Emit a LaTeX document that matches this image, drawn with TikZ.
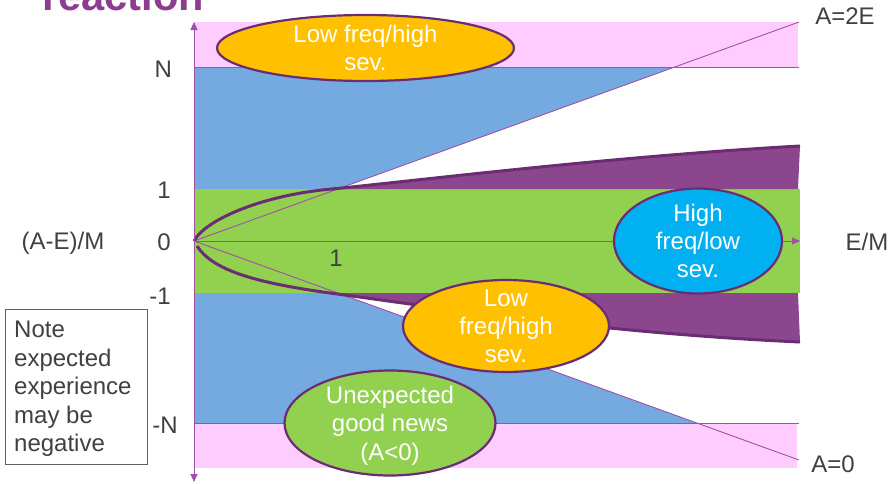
\documentclass[tikz,border=0pt]{standalone}
\usepackage{fontspec}
\setmainfont{Liberation Sans}
\usetikzlibrary{shapes.geometric,arrows.meta}
\definecolor{pinkband}{HTML}{FFCCFF}
\definecolor{blueband}{HTML}{75AAE1}
\definecolor{greenband}{HTML}{92D050}
\definecolor{purplefill}{HTML}{8C468E}
\definecolor{darkpurple}{HTML}{6A2C72}
\definecolor{axiscol}{HTML}{A050A8}
\definecolor{orangefill}{HTML}{FFC000}
\definecolor{bluefill}{HTML}{00B0F0}
\definecolor{labelgray}{HTML}{404040}
\definecolor{notegray}{HTML}{606060}
\definecolor{titlepurple}{HTML}{8C3C91}
\begin{document}
\begin{tikzpicture}[x=1pt,y=-1pt,
  >={Triangle[length=8pt,width=7pt]},
  lbl/.style={text=labelgray,font=\fontsize{24}{28.4}\selectfont,inner sep=0,anchor=base},
  bubble/.style={ellipse,draw=darkpurple,line width=2.2pt,inner sep=0},
  btext/.style={text=white,font=\fontsize{24}{28.4}\selectfont,align=center,inner sep=0},
  thinline/.style={draw=axiscol,line width=0.9pt},
  curveline/.style={draw=darkpurple,line width=3pt},
  axisline/.style={draw=axiscol,line width=1pt}]
\useasboundingbox (0,0) rectangle (893,483);
\clip (0,0) rectangle (893,483);
% key points
\coordinate (O) at (194,241);
\coordinate (Otop) at (194,22);
\coordinate (Obot) at (194,482);
\coordinate (Xend) at (800,241);
\coordinate (up2E) at (799,22);
\coordinate (dn0) at (799,460);
% bands
\fill[pinkband] (194,22) rectangle (798,67);
\fill[pinkband] (194,423) rectangle (797,468);
\fill[blueband] (194,67) -- (675,67) -- (337.6,189) -- (194,189) -- cycle;
\fill[blueband] (194,293) -- (337.6,293) -- (697,423) -- (194,423) -- cycle;
\fill[greenband] (194,189) rectangle (800,293);
\fill[purplefill] (332,189) .. controls (440,178) and (620,156) .. (800,146) -- (798,189) -- cycle;
\fill[purplefill] (330,293) .. controls (420,305) and (600,333) .. (800,342) -- (798,293) -- cycle;
% N and -N lines
\draw[thinline] (194,67) -- (799,67);
\draw[thinline] (194,423) -- (799,423);
% diagonals
\draw[thinline] (O) -- (up2E);
\draw[thinline] (O) -- (dn0);
% curves
\draw[curveline] (194,241) .. controls (205,220) and (262,195) .. (332,189) .. controls (440,178) and (620,156) .. (800,146);
\draw[curveline] (197,246) .. controls (212,269) and (250,282) .. (330,293) .. controls (420,305) and (600,333) .. (800,342);
% axes
\draw[axisline,<->] (Obot) -- (Otop);
\draw[axisline,->] (O) -- (Xend);
% bubbles
\node[bubble,fill=orangefill,minimum width=297pt,minimum height=66pt] (e1) at (365.5,48) {};
\node[btext] (t1) at (365.5,48) {Low freq/high\\sev.};
\node[bubble,fill=orangefill,minimum width=206pt,minimum height=92pt] (e2) at (506,326) {};
\node[btext] (t2) at (506,326.3) {Low\\freq/high\\sev.};
\node[bubble,fill=greenband,minimum width=211pt,minimum height=105pt] (e3) at (390,423) {};
\node[btext] (t3) at (390,425.5) {Unexpected\\good news\\(A<0)};
\node[bubble,fill=bluefill,minimum width=168pt,minimum height=105pt] (e4) at (698,241) {};
\node[btext] (t4) at (698,241) {High\\freq/low\\sev.};
% note box
\node[draw=notegray,line width=0.8pt,minimum width=142pt,minimum height=155pt,anchor=north west,inner sep=0] (note) at (4.5,309.3) {};
\node[text=labelgray,font=\fontsize{24}{28.4}\selectfont,align=left,inner sep=0,anchor=north west] (notetext) at (14,321.1) {Note\\expected\\experience\\may be\\negative};
% title
\node[text=titlepurple,font=\bfseries\fontsize{41.6}{50}\selectfont,anchor=base west,inner sep=0] (title) at (42,10.5) {reaction};
% labels
\node[lbl] (lN) at (163.3,77) {N};
\node[lbl] (l1) at (164,198.6) {1};
\node[lbl] (l0) at (164,250.6) {0};
\node[lbl] (lm1) at (160,304.6) {-1};
\node[lbl] (lmN) at (165,433.6) {-N};
\node[lbl] (lyax) at (63,249.6) {(A-E)/M};
\node[lbl] (lxax) at (867,250) {E/M};
\node[lbl] (l2E) at (845,24) {A=2E};
\node[lbl] (lA0) at (833,472.7) {A=0};
\node[lbl] (lone) at (336,266.6) {1};
\end{tikzpicture}
\end{document}
